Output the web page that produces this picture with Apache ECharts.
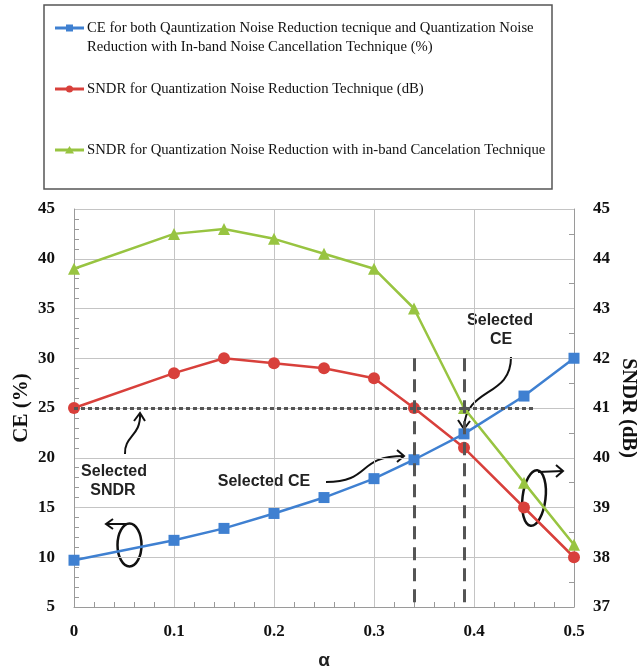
<!DOCTYPE html>
<html>
<head>
<meta charset="utf-8">
<script src="https://cdn.jsdelivr.net/npm/echarts@6/dist/echarts.min.js"></script>
<style>
  html, body { margin: 0; padding: 0; background: #ffffff; }
  #chart { width: 637px; height: 669px; }
</style>
</head>
<body>
<div id="chart"></div>
<script>
// α values along the horizontal axis
const alpha = [0, 0.1, 0.15, 0.2, 0.25, 0.3, 0.34, 0.39, 0.45, 0.5];
// CE (%) – left axis
const ceValues = [9.7, 11.7, 12.9, 14.4, 16.0, 17.9, 19.8, 22.4, 26.2, 30.0];
// SNDR (dB) – right axis
const sndrQnr = [41.0, 41.7, 42.0, 41.9, 41.8, 41.6, 41.0, 40.2, 39.0, 38.0];
const sndrInband = [43.8, 44.5, 44.6, 44.4, 44.1, 43.8, 43.0, 41.0, 39.5, 38.25];

// selection guides
const selectedSndrLevel = 25;      // on CE axis (same height as 41 dB)
const selectedSndrEnd = 0.46;
const selectedAlphas = [0.34, 0.39];
const guideTop = 30;

const seriesNames = [
  'CE for both Qauntization Noise Reduction tecnique and Quantization Noise\nReduction with In-band Noise Cancellation Technique (%)',
  'SNDR for Quantization Noise Reduction Technique (dB)',
  'SNDR for Quantization Noise Reduction with in-band Cancelation Technique'
];

const BLUE = '#3f80d1', RED = '#d8403b', GREEN = '#98c441';
const GRID_COLOR = '#c4c4c4', AXIS_COLOR = '#9a9a9a';
const tickFont = { fontFamily: 'Liberation Serif', fontWeight: 'bold', fontSize: 17, color: '#111' };

const pairs = (ys) => alpha.map((a, i) => [a, ys[i]]);

const chart = echarts.init(document.getElementById('chart'), null, { renderer: 'canvas' });

const legendY = [28, 89, 150];
const legendColors = [BLUE, RED, GREEN];
const legendGraphics = [{
  type: 'rect', shape: { x: 44, y: 5, width: 508, height: 184 },
  style: { fill: 'none', stroke: '#555', lineWidth: 1.5 }
}];
legendY.forEach((y, i) => {
  legendGraphics.push({
    type: 'line', shape: { x1: 55, y1: y, x2: 84, y2: y },
    style: { stroke: legendColors[i], lineWidth: 3 }
  });
  let marker;
  if (i === 0) marker = { type: 'rect', shape: { x: 66, y: y - 3.5, width: 7, height: 7 } };
  else if (i === 1) marker = { type: 'circle', shape: { cx: 69.5, cy: y, r: 3.5 } };
  else marker = { type: 'polygon', shape: { points: [[69.5, y - 4], [74, y + 3.5], [65, y + 3.5]] } };
  marker.style = { fill: legendColors[i] };
  legendGraphics.push(marker);
  legendGraphics.push({
    type: 'text', x: 87, y: y,
    style: {
      text: seriesNames[i], fill: '#111', font: '14.7px "Liberation Serif"',
      verticalAlign: 'middle', lineHeight: 19
    }
  });
});
// first legend entry wraps onto two lines: keep its first line level with the icon
legendGraphics[3].y = 28 + 9.5;

const annoFont = 'bold 16px "Liberation Sans"';
const black = { stroke: '#111', lineWidth: 2, fill: 'none' };
const annotations = [
  // Selected SNDR
  { type: 'text', x: 114, y: 472, style: { text: 'Selected', font: annoFont, fill: '#222', align: 'center', verticalAlign: 'middle' } },
  { type: 'text', x: 113, y: 491, style: { text: 'SNDR', font: annoFont, fill: '#222', align: 'center', verticalAlign: 'middle' } },
  { type: 'bezierCurve', shape: { x1: 125, y1: 454, cpx1: 124, cpy1: 436, cpx2: 141, cpy2: 436, x2: 140, y2: 414 }, style: black },
  { type: 'polyline', shape: { points: [[134, 421], [140, 413], [145, 421]] }, style: black },
  // Selected CE (lower)
  { type: 'text', x: 264, y: 482, style: { text: 'Selected CE', font: annoFont, fill: '#222', align: 'center', verticalAlign: 'middle' } },
  { type: 'bezierCurve', shape: { x1: 326, y1: 482, cpx1: 372, cpy1: 482, cpx2: 356, cpy2: 456, x2: 404, y2: 456 }, style: black },
  { type: 'polyline', shape: { points: [[397, 450], [404, 456], [397, 462]] }, style: black },
  // Selected CE (upper)
  { type: 'text', x: 500, y: 321, style: { text: 'Selected', font: annoFont, fill: '#222', align: 'center', verticalAlign: 'middle' } },
  { type: 'text', x: 501, y: 340, style: { text: 'CE', font: annoFont, fill: '#222', align: 'center', verticalAlign: 'middle' } },
  { type: 'bezierCurve', shape: { x1: 511, y1: 357, cpx1: 511, cpy1: 398, cpx2: 466, cpy2: 386, x2: 464, y2: 428 }, style: black },
  { type: 'polyline', shape: { points: [[458, 420], [464, 429], [470, 421]] }, style: black },
  // axis ownership rings
  { type: 'ellipse', shape: { cx: 129.5, cy: 545, rx: 12, ry: 21.5 }, style: { stroke: '#111', lineWidth: 2.5, fill: 'none' } },
  { type: 'line', shape: { x1: 126, y1: 524, x2: 107, y2: 524 }, style: black },
  { type: 'polyline', shape: { points: [[113, 519], [106, 524], [113, 529]] }, style: black },
  { type: 'ellipse', x: 534, y: 498, rotation: -0.12, shape: { cx: 0, cy: 0, rx: 11.5, ry: 28 }, style: { stroke: '#111', lineWidth: 2.5, fill: 'none' } },
  { type: 'line', shape: { x1: 538, y1: 472, x2: 563, y2: 471 }, style: black },
  { type: 'polyline', shape: { points: [[556, 465], [563, 471], [556, 477]] }, style: black }
];

const guideStyle = { color: '#555', width: 3 };

chart.setOption({
  animation: false,
  backgroundColor: '#ffffff',
  grid: { left: 74, right: 63, top: 209, bottom: 62, show: false, containLabel: false, outerBoundsMode: 'none' },
  xAxis: {
    type: 'value', min: 0, max: 0.5, interval: 0.1,
    name: 'α', nameLocation: 'middle', nameGap: 44, nameMoveOverlap: false,
    nameTextStyle: { fontFamily: 'Liberation Sans', fontWeight: 'bold', fontSize: 19, color: '#222' },
    axisLine: { show: true, lineStyle: { color: AXIS_COLOR, width: 1 } },
    axisTick: { show: false, inside: true },
    minorTick: { show: true, splitNumber: 5, length: 5, lineStyle: { color: AXIS_COLOR } },
    axisLabel: Object.assign({ margin: 16 }, tickFont),
    splitLine: { show: true, lineStyle: { color: GRID_COLOR, width: 1 } }
  },
  yAxis: [{
    type: 'value', min: 5, max: 45, interval: 5, position: 'left',
    name: 'CE (%)', nameLocation: 'middle', nameGap: 42, nameMoveOverlap: false,
    nameTextStyle: { fontFamily: 'Liberation Serif', fontWeight: 'bold', fontSize: 21, color: '#111' },
    axisLine: { show: true, lineStyle: { color: AXIS_COLOR, width: 1 } },
    axisTick: { show: false, inside: true },
    minorTick: { show: true, splitNumber: 5, length: 5, lineStyle: { color: AXIS_COLOR } },
    axisLabel: Object.assign({ margin: 19 }, tickFont),
    splitLine: { show: true, lineStyle: { color: GRID_COLOR, width: 1 } }
  }, {
    type: 'value', min: 37, max: 45, interval: 1, position: 'right',
    name: 'SNDR (dB)', nameLocation: 'middle', nameGap: 44, nameRotate: -90, nameMoveOverlap: false,
    nameTextStyle: { fontFamily: 'Liberation Serif', fontWeight: 'bold', fontSize: 20.5, color: '#111' },
    axisLine: { show: true, lineStyle: { color: AXIS_COLOR, width: 1 } },
    axisTick: { show: false, inside: true },
    minorTick: { show: true, splitNumber: 2, length: 5, lineStyle: { color: AXIS_COLOR } },
    axisLabel: Object.assign({ margin: 19 }, tickFont),
    splitLine: { show: false }
  }],
  series: [{
    name: seriesNames[2], type: 'line', yAxisIndex: 1, data: pairs(sndrInband),
    symbol: 'triangle', symbolSize: 12, itemStyle: { color: GREEN },
    lineStyle: { color: GREEN, width: 2.5 }
  }, {
    name: seriesNames[1], type: 'line', yAxisIndex: 1, data: pairs(sndrQnr),
    symbol: 'circle', symbolSize: 12, itemStyle: { color: RED },
    lineStyle: { color: RED, width: 2.5 }
  }, {
    name: seriesNames[0], type: 'line', yAxisIndex: 0, data: pairs(ceValues),
    symbol: 'rect', symbolSize: 11, itemStyle: { color: BLUE },
    lineStyle: { color: BLUE, width: 2.5 },
    markLine: {
      silent: true, symbol: 'none', label: { show: false },
      data: [
        [{ coord: [0, selectedSndrLevel], lineStyle: Object.assign({ type: [4, 3] }, guideStyle) },
         { coord: [selectedSndrEnd, selectedSndrLevel] }],
        ...selectedAlphas.map(a => [
          { coord: [a, guideTop], lineStyle: Object.assign({ type: [13, 8] }, guideStyle) },
          { coord: [a, 5] }
        ])
      ]
    }
  }],
  graphic: legendGraphics.concat(annotations)
});
</script>
</body>
</html>
